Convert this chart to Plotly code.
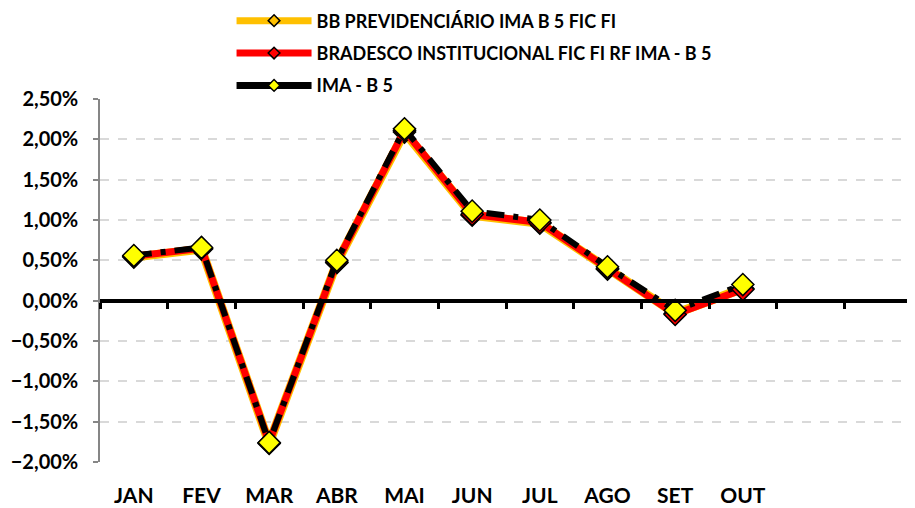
import plotly.graph_objects as go

# dados (rentabilidade mensal, em fração)
meses = ["JAN", "FEV", "MAR", "ABR", "MAI", "JUN", "JUL", "AGO", "SET", "OUT", "NOV", "DEZ"]
bb_prev = [0.0054, 0.0064, -0.0177, 0.0047, 0.0209, 0.0106, 0.0096, 0.0039, -0.0016, 0.0015]
bradesco = [0.0055, 0.0065, -0.0176, 0.0048, 0.0211, 0.0107, 0.0097, 0.0040, -0.0017, 0.0014]
ima_b5 = [0.0056, 0.0066, -0.0176, 0.0050, 0.0213, 0.0111, 0.0100, 0.0042, -0.0012, 0.0020]

nomes = ["BB PREVIDENCIÁRIO IMA B 5 FIC FI",
         "BRADESCO INSTITUCIONAL FIC FI RF IMA - B 5",
         "IMA - B 5"]

x = meses[:len(ima_b5)]
fonte = "Lato"

fig = go.Figure()

# linhas do gráfico (sem legenda)
fig.add_trace(go.Scatter(x=x, y=bb_prev, mode="lines+markers", showlegend=False,
                         line=dict(color="#FFC000", width=9),
                         marker=dict(symbol="diamond", size=17, color="#FFC000",
                                     line=dict(color="black", width=1.5))))
fig.add_trace(go.Scatter(x=x, y=bradesco, mode="lines+markers", showlegend=False,
                         line=dict(color="#FF0000", width=7),
                         marker=dict(symbol="diamond", size=17, color="#FF0000",
                                     line=dict(color="black", width=1.5))))
fig.add_trace(go.Scatter(x=x, y=ima_b5, mode="lines+markers", showlegend=False,
                         line=dict(color="black", width=6, dash="18px,9px,5px,9px"),
                         marker=dict(symbol="diamond", size=17, color="#FFFF00",
                                     line=dict(color="black", width=1.5))))

# itens da legenda
cores = ["#FFC000", "#FF0000", "black"]
preench = ["#FFC000", "#FF0000", "#FFFF00"]
for i in range(3):
    fig.add_trace(go.Scatter(x=[None], y=[None], mode="lines+markers", name=nomes[i],
                             legendgroup=str(i),
                             line=dict(color=cores[i], width=7),
                             marker=dict(symbol="diamond", size=9, color=preench[i],
                                         line=dict(color="black", width=1.5))))

# eixo auxiliar para a linha do zero com marcas
fig.add_trace(go.Scatter(x=meses, y=[None] * len(meses), xaxis="x2",
                         showlegend=False, hoverinfo="skip"))

ymin, ymax = -0.02, 0.025

fig.update_layout(
    width=907, height=500,
    margin=dict(l=92, r=3, t=91, b=46, autoexpand=False),
    paper_bgcolor="white", plot_bgcolor="white",
    separators=",.",
    font=dict(family=fonte, size=16, color="black"),
    legend=dict(x=0.162, y=1.266, xanchor="left", yanchor="top",
                font=dict(family=fonte, size=18, color="black", weight="bold"),
                itemwidth=75, traceorder="grouped", tracegroupgap=6,
                bgcolor="rgba(0,0,0,0)"),
    xaxis=dict(type="category", categoryorder="array", categoryarray=meses,
               range=[-0.5, 11.5], tickvals=x, ticks="", showline=False,
               showgrid=False, zeroline=False, automargin=False,
               ticklabelstandoff=19,
               tickfont=dict(family=fonte, size=21, weight="bold")),
    xaxis2=dict(type="category", categoryorder="array", categoryarray=meses,
                overlaying="x", matches="x", anchor="free",
                position=(0 - ymin) / (ymax - ymin),
                showline=True, linecolor="black", linewidth=4,
                ticks="outside", tickson="boundaries", ticklen=6, tickwidth=3,
                tickcolor="black", showticklabels=False, showgrid=False,
                zeroline=False),
    yaxis=dict(range=[ymin, ymax], dtick=0.005, tickformat=".2%",
               showline=True, linecolor="#868686", linewidth=1.5,
               ticks="outside", ticklen=5, tickcolor="#868686", tickwidth=1.5,
               showgrid=True, gridcolor="#D9D9D9", gridwidth=1.5, griddash="dash",
               zeroline=False, automargin=False, ticklabelstandoff=11,
               tickfont=dict(family=fonte, size=20, weight="bold")),
)

fig.write_html("out.html")
